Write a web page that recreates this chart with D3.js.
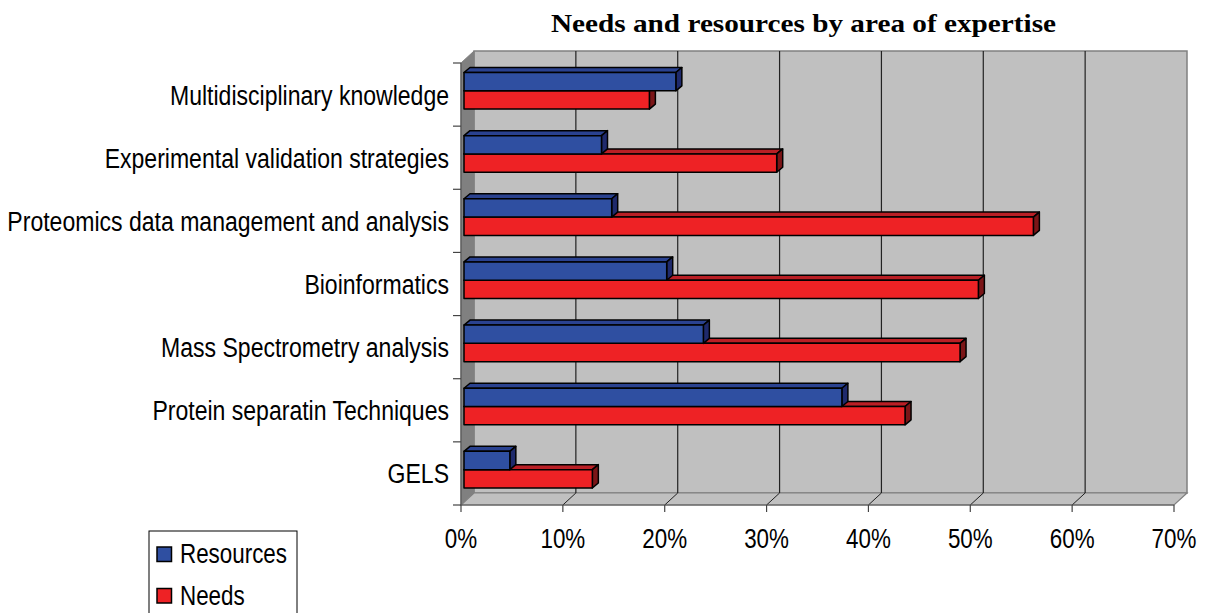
<!DOCTYPE html>
<html><head><meta charset="utf-8">
<script src="https://cdn.jsdelivr.net/npm/d3@7"></script>
<style>body{margin:0;background:#fff}svg{display:block}</style>
</head><body>
<svg id="chart" width="1208" height="613"></svg>
<script>
const categories = ["Multidisciplinary knowledge","Experimental validation strategies","Proteomics data management and analysis","Bioinformatics","Mass Spectrometry analysis","Protein separatin Techniques","GELS"];
const resources = [20.8, 13.5, 14.5, 19.9, 23.5, 37.1, 4.5];
const needs = [18.2, 30.7, 55.9, 50.5, 48.7, 43.3, 12.6];
const xTicks = [0,10,20,30,40,50,60,70];
const seriesNames = ["Resources","Needs"];
const title = "Needs and resources by area of expertise";

const svg = d3.select("#chart");
const x = d3.scaleLinear().domain([0,70]).range([461,1174]);
const y = d3.scaleBand().domain(categories).range([63,505]).padding(0);
const D = {dx:13, dy:-12};   // wall depth
const B = {ox:3, oy:-3, dx:6, dy:-5}; // bar depth
const X0 = x(0), X1 = x(70), Y0 = y.range()[0], Y1 = y.range()[1];

// walls
svg.append("rect").attr("x",X0+D.dx).attr("y",Y0+D.dy).attr("width",X1-X0).attr("height",Y1-Y0)
  .attr("fill","#c0c0c0").attr("stroke","#808080").attr("stroke-width",1.5);
svg.append("polygon").attr("points",[[X0,Y0],[X0+D.dx,Y0+D.dy],[X0+D.dx,Y1+D.dy],[X0,Y1]].join(" "))
  .attr("fill","#808080").attr("stroke","#808080");
svg.append("polygon").attr("points",[[X0,Y1],[X0+D.dx,Y1+D.dy],[X1+D.dx,Y1+D.dy],[X1,Y1]].join(" "))
  .attr("fill","#c0c0c0").attr("stroke","#808080").attr("stroke-width",1.2);

// gridlines
xTicks.filter(t=>t>0&&t<70).forEach(t=>{
  svg.append("line").attr("x1",x(t)+D.dx).attr("x2",x(t)+D.dx).attr("y1",Y0+D.dy).attr("y2",Y1+D.dy)
    .attr("stroke","#222").attr("stroke-width",1.2);
  svg.append("line").attr("x1",x(t)).attr("x2",x(t)+D.dx).attr("y1",Y1).attr("y2",Y1+D.dy)
    .attr("stroke","#222").attr("stroke-width",1);
});

// bars
const colors = {
  Resources:{front:"#2f4fa1", top:"#2a4290", side:"#1f2a6c"},
  Needs:{front:"#ee2225", top:"#b91f25", side:"#7b1517"}
};
const h = 18.3;
const bars = svg.append("g");
categories.forEach((c,i)=>{
  const t = y(c);
  [["Needs",needs[i],t+27.8],["Resources",resources[i],t+9.5]].forEach(([s,v,yy])=>{
    const a = X0+B.ox, b = x(v)+B.ox, col = colors[s];
    const g = bars.append("g").attr("stroke","#000").attr("stroke-width",1.5).attr("stroke-linejoin","round");
    g.append("polygon").attr("points",[[a,yy],[a+B.dx,yy+B.dy],[b+B.dx,yy+B.dy],[b,yy]].join(" ")).attr("fill",col.top);
    g.append("polygon").attr("points",[[b,yy],[b+B.dx,yy+B.dy],[b+B.dx,yy+h+B.dy],[b,yy+h]].join(" ")).attr("fill",col.side);
    g.append("rect").attr("x",a).attr("y",yy).attr("width",b-a).attr("height",h).attr("fill",col.front);
  });
});

// axes
svg.append("line").attr("x1",X0).attr("x2",X0).attr("y1",Y0).attr("y2",Y1).attr("stroke","#555").attr("stroke-width",1.2);
svg.append("line").attr("x1",X0).attr("x2",X1).attr("y1",Y1).attr("y2",Y1).attr("stroke","#555").attr("stroke-width",1.2);
const bounds = categories.map(c=>y(c)).concat([Y1]);
bounds.forEach(b=>svg.append("line").attr("x1",X0-8).attr("x2",X0).attr("y1",b).attr("y2",b).attr("stroke","#444").attr("stroke-width",1.2));
xTicks.forEach(t=>svg.append("line").attr("x1",x(t)).attr("x2",x(t)).attr("y1",Y1).attr("y2",Y1+7).attr("stroke","#444").attr("stroke-width",1.2));

function label(txt, px, py, anchor, size, sx){
  svg.append("text").attr("transform",`translate(${px},${py}) scale(${sx},1)`)
    .attr("text-anchor",anchor).attr("font-family","'Liberation Sans', Arial, sans-serif")
    .attr("font-size",size).attr("fill","#000").text(txt);
}
categories.forEach(c=>label(c, 449, y(c)+y.bandwidth()/2+10, "end", 28, 0.823));
xTicks.forEach(t=>label(t+"%", x(t), 548, "middle", 28, 0.8));

// title
svg.append("text").attr("x",803.5).attr("y",32).attr("text-anchor","middle")
  .attr("font-family","'Liberation Serif', 'Times New Roman', serif").attr("font-weight","bold")
  .attr("font-size",25).attr("textLength",505).attr("lengthAdjust","spacingAndGlyphs").text(title);

// legend
svg.append("rect").attr("x",149).attr("y",531).attr("width",148).attr("height",90).attr("fill","#fff").attr("stroke","#000").attr("stroke-width",1);
seriesNames.forEach((s,i)=>{
  svg.append("rect").attr("x",157).attr("y",547+i*41.5).attr("width",14.5).attr("height",14.5)
    .attr("fill",colors[s].front).attr("stroke","#000").attr("stroke-width",1.5);
  label(s, 180, 563+i*42, "start", 28, 0.8);
});
</script>
</body></html>
